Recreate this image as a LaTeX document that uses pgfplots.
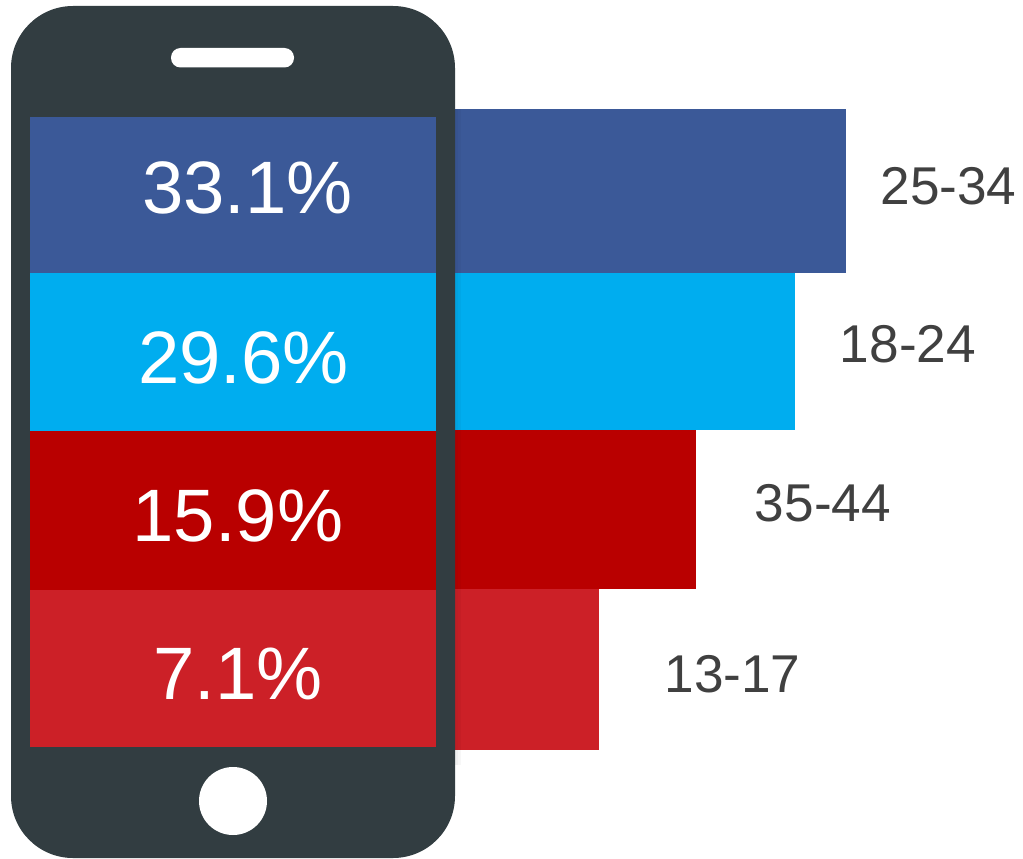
\documentclass[border=0pt]{standalone}
\usepackage{pgfplots}
\pgfplotsset{compat=1.18}
\usepackage{fontspec}
\setmainfont{Liberation Sans}
\definecolor{cblue}{HTML}{3B5998}
\definecolor{ccyan}{HTML}{00ADEF}
\definecolor{cdred}{HTML}{B90000}
\definecolor{cred}{HTML}{CC2027}
\definecolor{cphone}{HTML}{323D41}
\definecolor{clabel}{HTML}{404040}
\newcommand{\pct}[3]{\node[anchor=base,text=white,inner sep=0pt,font=\fontsize{74.3}{74}\selectfont] at (axis cs:#1,#2) {#3};}
\newcommand{\age}[3]{\node[anchor=base,text=clabel,inner sep=0pt,font=\fontsize{53.2}{53}\selectfont] at (axis cs:#1,#2) {#3};}
\begin{document}
\begin{tikzpicture}[x=1pt,y=1pt]
\begin{axis}[
  x=1pt,y=1pt,y dir=reverse,
  xmin=0,xmax=1023,ymin=0,ymax=859,
  hide axis,clip=false,
  every axis plot/.append style={draw=none,forget plot},
]
\path (axis cs:0,0) rectangle (axis cs:1023,859);
% bars that stick out of the phone
\addplot[fill=cblue] coordinates {(440,109)(846,109)(846,273)(440,273)} --cycle;
\addplot[fill=ccyan] coordinates {(440,273)(795,273)(795,430)(440,430)} --cycle;
\addplot[fill=cdred] coordinates {(440,430)(695.5,430)(695.5,589)(440,589)} --cycle;
\addplot[fill=cred]  coordinates {(440,589)(599,589)(599,750)(440,750)} --cycle;
% phone body
\fill[black,opacity=.06] (axis cs:455,109) rectangle (axis cs:458,765);
\fill[black,opacity=.03] (axis cs:458,109) rectangle (axis cs:461,765);
\fill[cphone,rounded corners=62pt] (axis cs:11,6) rectangle (axis cs:455,858);
\fill[white,rounded corners=9.5pt] (axis cs:171,48) rectangle (axis cs:294,67.5);
\fill[white] (axis cs:233,801) circle[radius=34pt];
% screen
\addplot[fill=cblue] coordinates {(30,117)(436,117)(436,273)(30,273)} --cycle;
\addplot[fill=ccyan] coordinates {(30,273)(436,273)(436,431)(30,431)} --cycle;
\addplot[fill=cdred] coordinates {(30,431)(436,431)(436,590)(30,590)} --cycle;
\addplot[fill=cred]  coordinates {(30,590)(436,590)(436,747)(30,747)} --cycle;
\pct{247.5}{213.5}{33.1\%}
\pct{243.5}{383}{29.6\%}
\pct{238}{541}{15.9\%}
\pct{238}{699}{7.1\%}
\age{948.5}{204}{25-34}
\age{908}{362}{18-24}
\age{823}{521}{35-44}
\age{732.5}{692}{13-17}
\end{axis}
\end{tikzpicture}
\end{document}
